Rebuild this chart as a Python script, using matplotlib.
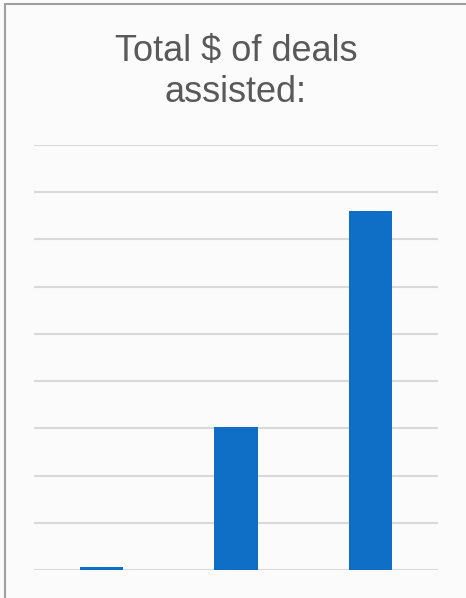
import matplotlib
matplotlib.use("Agg")
import matplotlib.pyplot as plt
from matplotlib.patches import Rectangle

# deal totals for the three groups (axis units, no labels shown)
groups = ["Group 1", "Group 2", "Group 3"]
totals = [0.07, 3.03, 7.61]
title_lines = ["Total $ of deals", "assisted:"]

bar_color = "#0f6fc6"
grid_color = "#d9d9d9"
text_color = "#595959"

fig = plt.figure(figsize=(4.66, 5.98), dpi=100)
fig.patch.set_facecolor("#fbfbfb")

ax = fig.add_axes([34 / 466, 1 - 570 / 598, 404 / 466, 425 / 598])
ax.set_facecolor("none")
pos = list(range(len(groups)))
ax.bar(pos, totals, width=0.32, color=bar_color, zorder=3)

ax.set_xlim(-0.5, len(groups) - 0.5)
ax.set_ylim(0, 9)
ax.set_yticks(range(0, 10))
ax.yaxis.grid(True, color=grid_color, linewidth=1.5)
ax.set_axisbelow(True)
ax.tick_params(left=False, bottom=False, labelleft=False, labelbottom=False)
for s in ax.spines.values():
    s.set_visible(False)

# title, two centred lines
fig.text(236 / 466, 1 - 61 / 598, title_lines[0], ha="center", va="baseline",
         fontsize=26, color=text_color, family="Liberation Sans")
fig.text(236 / 466, 1 - 102 / 598, title_lines[1], ha="center", va="baseline",
         fontsize=26, color=text_color, family="Liberation Sans")

# chart frame, runs off the right and bottom edges
fig.patches.append(Rectangle((4.5 / 466, -0.1), 1.2, 1 - 4.5 / 598 + 0.1,
                             transform=fig.transFigure, fill=False,
                             edgecolor="#a0a0a0", linewidth=1.5))

fig.savefig("out.png", dpi=100, facecolor=fig.get_facecolor())
